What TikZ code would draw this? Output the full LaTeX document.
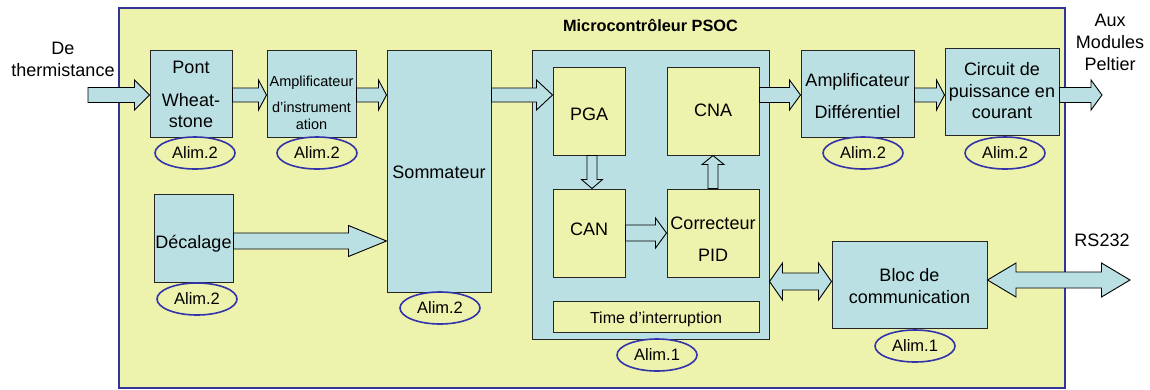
\documentclass[tikz,border=0pt]{standalone}
\usepackage{fontspec}
\setmainfont{Liberation Sans}
\usetikzlibrary{calc,fit,shapes.geometric}
\definecolor{ylw}{RGB}{237,242,172}
\definecolor{lblue}{RGB}{186,224,227}
\definecolor{framec}{RGB}{51,51,153}
\definecolor{ellc}{RGB}{51,51,170}
\tikzset{
  boxb/.style={draw=black!85, fill=lblue, line width=1pt, inner sep=0pt},
  boxy/.style={draw=black!85, fill=ylw, line width=1pt, inner sep=0pt},
  barrow/.style={draw=black, fill=lblue, line width=0.9pt, line join=miter},
  alim/.style={draw=ellc, line width=1.6pt, ellipse, minimum width=80pt, minimum height=32pt, inner sep=0pt, font=\fontsize{16.5}{16.5}\selectfont, text height=11.8pt, text depth=0pt},
  txt/.style={inner sep=0pt, anchor=base, font=\fontsize{18}{18}\selectfont},
  stxt/.style={inner sep=0pt, anchor=base, font=\fontsize{14.5}{14.5}\selectfont},
  mtxt/.style={inner sep=0pt, anchor=base, font=\fontsize{16}{16}\selectfont},
  ttl/.style={inner sep=0pt, anchor=base, font=\fontsize{16.3}{16.3}\selectfont\bfseries},
}
% horizontal block arrow: start, end, shaft half, head half, head length
\newcommand\harr[5]{\draw[barrow] let \p1=#1, \p2=#2 in
  (\x1,\y1+#3pt) -- (\x2-#5pt,\y1+#3pt) -- (\x2-#5pt,\y1+#4pt) -- (\x2,\y1)
  -- (\x2-#5pt,\y1-#4pt) -- (\x2-#5pt,\y1-#3pt) -- (\x1,\y1-#3pt) -- cycle;}
% double headed horizontal block arrow
\newcommand\darr[5]{\draw[barrow] let \p1=#1, \p2=#2 in
  (\x1,\y1) -- (\x1+#5pt,\y1+#4pt) -- (\x1+#5pt,\y1+#3pt) -- (\x2-#5pt,\y1+#3pt)
  -- (\x2-#5pt,\y1+#4pt) -- (\x2,\y1) -- (\x2-#5pt,\y1-#4pt) -- (\x2-#5pt,\y1-#3pt)
  -- (\x1+#5pt,\y1-#3pt) -- (\x1+#5pt,\y1-#4pt) -- cycle;}
% vertical block arrow: start, end, shaft half, head half, head length, sign (1 down, -1 up)
\newcommand\varr[6]{\draw[barrow] let \p1=#1, \p2=#2 in
  (\x1-#3pt,\y1) -- (\x1-#3pt,\y2+#6*#5pt) -- (\x1-#4pt,\y2+#6*#5pt) -- (\x1,\y2)
  -- (\x1+#4pt,\y2+#6*#5pt) -- (\x1+#3pt,\y2+#6*#5pt) -- (\x1+#3pt,\y1) -- cycle;}
\begin{document}
\begin{tikzpicture}[x=1pt,y=-1pt]
\useasboundingbox (0,0) rectangle (1150,389);
\fill[white] (0,0) rectangle (1150,389);
% main frame
\node[fit={(119,8) (1065,388)}, draw=framec, fill=ylw, line width=1.8pt, inner sep=0pt] (mcu) {};
\node[ttl] (title) at (650.5,31) {Microcontrôleur PSOC};
% row coordinates
\coordinate (rowA) at (0,95);
\coordinate (rowB) at (0,281.5);
\coordinate (rowC) at (0,280);
\coordinate (inS) at (88,95);
\coordinate (outE) at (1102,95);
\coordinate (rsE) at (1130,280);
% boxes
\node[boxb, fit={(150,50) (232,137)}] (pont) {};
\node[boxb, fit={(267,50) (356,137)}] (ampi) {};
\node[boxb, fit={(387,50) (491,292)}] (somm) {};
\node[boxb, fit={(154,194) (233,282)}] (deca) {};
\node[boxb, fit={(532,50) (769,339)}] (psoc) {};
\node[boxy, fit={(553,67) (625,155)}] (pga) {};
\node[boxy, fit={(667,67) (759,155)}] (cna) {};
\node[boxy, fit={(553,189) (625,277)}] (can) {};
\node[boxy, fit={(667,189) (759,277)}] (pid) {};
\node[boxy, fit={(553,301) (759,332)}] (time) {};
\node[boxb, fit={(801,50) (914,137)}] (ampd) {};
\node[boxb, fit={(945,48) (1059,135)}] (circ) {};
\node[boxb, fit={(832,241) (987,328)}] (bloc) {};
% texts
\node[txt] (tDe) at (63,54) {De};
\node[txt] (tTh) at (63,76) {thermistance};
\node[txt] (tP1) at (191,73) {Pont};
\node[txt] (tP2) at (191,106) {Wheat-};
\node[txt] (tP3) at (191,127) {stone};
\node[stxt] (tA1) at (311.5,86) {Amplificateur};
\node[stxt] (tA2) at (311.5,112) {d’instrument};
\node[stxt] (tA3) at (311.5,129) {ation};
\node[txt] (tSo) at (439,178) {Sommateur};
\node[txt] (tPGA) at (589,120) {PGA};
\node[txt] (tCNA) at (713,116) {CNA};
\node[txt] (tD1) at (857.5,86) {Amplificateur};
\node[txt] (tD2) at (857.5,118) {Différentiel};
\node[txt] (tC1) at (1002,75) {Circuit de};
\node[txt] (tC2) at (1002,97) {puissance en};
\node[txt] (tC3) at (1002,118) {courant};
\node[txt] (tO1) at (1110,26) {Aux};
\node[txt] (tO2) at (1110,48) {Modules};
\node[txt] (tO3) at (1110,70) {Peltier};
\node[txt] (tDec) at (193.5,248) {Décalage};
\node[txt] (tCAN) at (589,235) {CAN};
\node[txt] (tPID1) at (713,229) {Correcteur};
\node[txt] (tPID2) at (713,261) {PID};
\node[mtxt] (tTime) at (656,323) {Time d’interruption};
\node[txt] (tB1) at (909.5,281) {Bloc de};
\node[txt] (tB2) at (909.5,303) {communication};
\node[txt] (tRS) at (1102,246) {RS232};
% alim ellipses
\node[alim] (e1) at (195,153) {Alim.2};
\node[alim] (e2) at (317,153) {Alim.2};
\node[alim] (e3) at (197,299) {Alim.2};
\node[alim] (e4) at (440,308) {Alim.2};
\node[alim] (e5) at (657,355) {Alim.1};
\node[alim] (e6) at (863,153) {Alim.2};
\node[alim] (e7) at (1005,153) {Alim.2};
\node[alim] (e8) at (915,346) {Alim.1};
% arrows
\harr{(inS)}{(pont.west)}{7.5}{15}{15}
\harr{(pont.east |- rowA)}{(ampi.west)}{7}{15}{8}
\harr{(ampi.east |- rowA)}{(somm.west)}{7}{15}{8}
\harr{(somm.east |- rowA)}{(pga.west)}{7}{15}{16}
\harr{([yshift=-3pt]deca.east)}{(somm.west)}{8}{15.5}{38}
\harr{(cna.east |- rowA)}{(ampd.west)}{7.5}{15}{11}
\harr{(ampd.east |- rowA)}{(circ.west)}{7}{15}{8}
\harr{(circ.east |- rowA)}{(outE)}{7.5}{15}{11}
\varr{([xshift=3pt]pga.south)}{(can.north)}{5}{10.5}{9}{1}
\varr{(pid.north)}{(cna.south)}{5}{11}{9}{-1}
\harr{(can.east)}{(pid.west)}{8}{15}{11}
\darr{(psoc.east |- rowB)}{(bloc.west |- rowB)}{8.5}{18.5}{13}
\darr{(bloc.east |- rowC)}{(rsE)}{8}{17}{28.5}
\end{tikzpicture}
\end{document}
